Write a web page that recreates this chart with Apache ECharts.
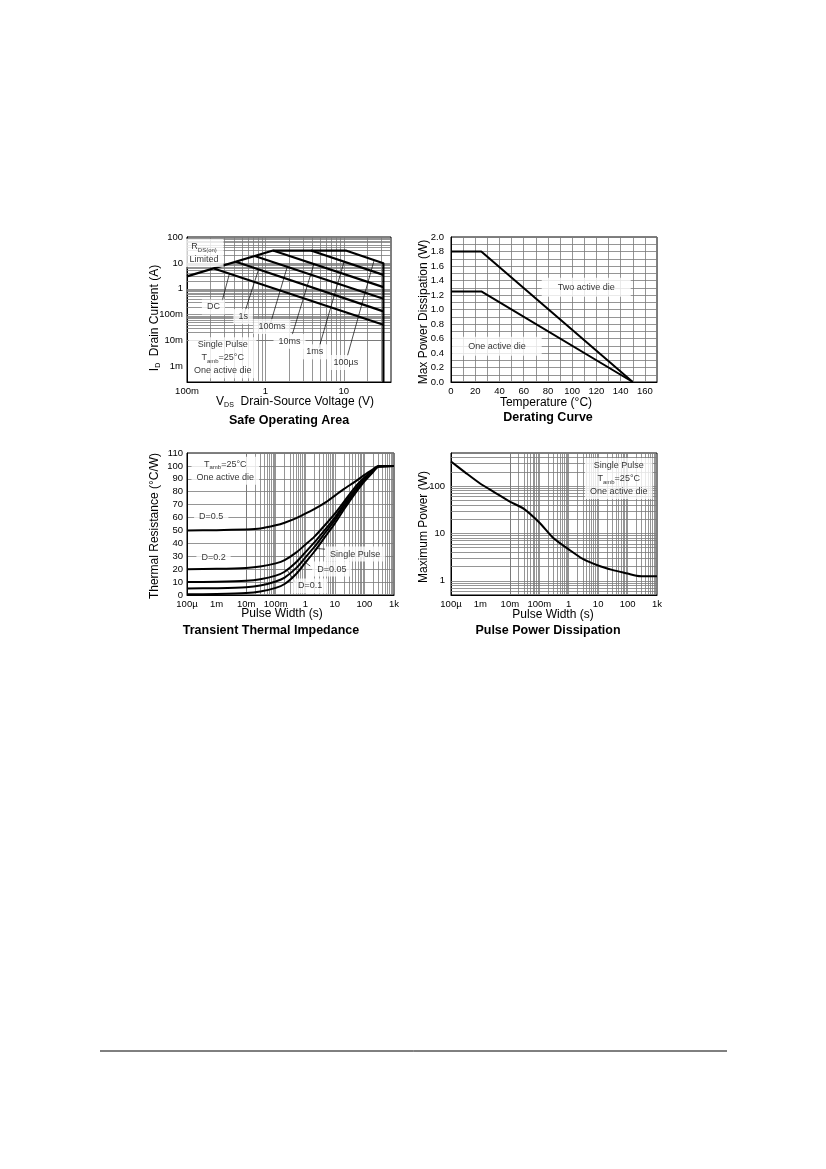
<!DOCTYPE html>
<html><head><meta charset="utf-8">
<script src="https://cdn.jsdelivr.net/npm/echarts/dist/echarts.min.js"></script>
<style>html,body{margin:0;padding:0;background:#fff}#c{width:826px;height:1169px}</style>
</head><body><div id="c"></div>
<script>
// ---------- Safe Operating Area ----------
const soaXTicks = [0.1, 1, 10];
const soaXLabels = ['100m', '1', '10'];
const soaYTicks = [0.001, 0.01, 0.1, 1, 10, 100];
const soaYLabels = ['1m', '10m', '100m', '1', '10', '100'];
const soaLimit = [[0.1, 3], [1.25, 30], [10.6, 30], [32, 9.7], [32, 0.00025]];
const soaDC = [[0.22, 6.1], [32, 0.041]];
const soa1s = [[0.42, 11.1], [32, 0.134]];
const soa100ms = [[0.73, 18.4], [32, 0.41]];
const soa10ms = [[1.25, 30], [32, 1.16]];
const soa1ms = [[3.8, 30], [32, 3.45]];
const soaNoteText = ['{r|R}{s|DS(on)}\n{r|Limited}', 'DC', '1s', '100ms', '10ms', '1ms', '100µs', 'Single Pulse\n{r|T}{s|amb}{r|=25°C}\nOne active die'];
const soaNotePos = [[0.165, 24], [0.217, 0.198], [0.52, 0.084], [1.21, 0.0346], [2.03, 0.0094], [4.25, 0.00367], [10.6, 0.00143], [0.285, 0.00216]];
const soaLeaders = [
  [[0.281, 0.345], [0.348, 3.86]],
  [[0.538, 0.11], [0.82, 5.7]],
  [[1.17, 0.05], [1.9, 7.07]],
  [[2.2, 0.017], [4.16, 9.0]],
  [[4.82, 0.0052], [10.1, 11.3]],
  [[11.1, 0.0025], [24.4, 12.8]]
];

// ---------- Derating ----------
const derXTicks = [0, 20, 40, 60, 80, 100, 120, 140, 160];
const derYTicks = [0, 0.2, 0.4, 0.6, 0.8, 1.0, 1.2, 1.4, 1.6, 1.8, 2.0];
const derTemp = [0, 25, 150];
const derTwo = [1.8, 1.8, 0];
const derOne = [1.25, 1.25, 0];
const derNoteText = ['Two active die', 'One active die'];
const derNotePos = [[111.6, 1.307], [37.9, 0.494]];

// ---------- Transient Thermal Impedance ----------
const pwTicks = [1e-4, 1e-3, 1e-2, 0.1, 1, 10, 100, 1000];
const pwLabels = ['100µ', '1m', '10m', '100m', '1', '10', '100', '1k'];
const thX = [1e-4, 1e-3, 1e-2, 0.03, 0.1, 0.2, 0.5, 1, 2, 5, 10, 20, 50, 100, 200, 300, 1000];
const thD05 = [50, 50.2, 50.8, 51.5, 54, 56, 59.5, 63, 66.5, 72, 77, 82, 88, 93, 97.5, 100, 100];
const thD02 = [20, 20.3, 21, 22, 24.5, 27, 33, 39, 45, 55, 63, 72, 84, 91, 97, 99.5, 100];
const thD01 = [10, 10.3, 11, 12.2, 15, 18, 25.5, 33, 40.5, 51.5, 60, 70, 82, 90, 96.6, 99.5, 100];
const thD005 = [5, 5.3, 6, 7.3, 10.5, 13.5, 21, 29, 37, 49, 58, 68, 80.5, 89, 96.2, 99.5, 100];
const thSingle = [0.5, 0.8, 1.5, 2.7, 5.5, 8.5, 16.5, 25, 33.5, 46, 55.5, 66, 79, 88, 95.5, 99.5, 100];
const thNoteText = ['{r|T}{s|amb}{r|=25°C}\nOne active die', 'D=0.5', 'D=0.2', 'Single Pulse', 'D=0.05', 'D=0.1'];
const thNotePos = [[0.00197, 96.2], [0.00066, 60.5], [0.00079, 29], [48.5, 31.7], [7.9, 20.1], [1.47, 7]];
const thLeaders = [
  [[4.7, 35.5], [2.5, 36]],
  [[1.47, 22.4], [0.85, 26.5]],
  [[0.456, 10], [0.24, 19.5]]
];

// ---------- Pulse Power Dissipation ----------
const ppYTicks = [1, 10, 100];
const ppYLabels = ['1', '10', '100'];
const ppX = [1e-4, 3e-4, 1e-3, 3e-3, 1e-2, 3e-2, 0.1, 0.3, 1, 3, 10, 30, 100, 200, 300, 1000];
const ppY = [330, 195, 112, 74, 47, 33, 17, 8, 4.6, 2.9, 2.1, 1.7, 1.42, 1.28, 1.25, 1.25];
const ppNoteText = ['Single Pulse\n{r|T}{s|amb}{r|=25°C}\nOne active die'];
const ppNotePos = [[50, 144]];

// ---------- helpers ----------
const FONT = '"Liberation Sans", Arial, Helvetica, sans-serif';
const GRID_COLOR = '#7a7a7a';
function fmtFrom(ticks, labels) {
  return function (v) {
    for (let i = 0; i < ticks.length; i++) {
      if (Math.abs(v - ticks[i]) <= Math.abs(ticks[i]) * 1e-6 + 1e-9) return labels[i];
    }
    return '';
  };
}
function logGrid(min, max) {
  const out = [];
  for (let e = Math.floor(Math.log10(min)) - 1; e <= Math.ceil(Math.log10(max)); e++) {
    for (let m = 1; m <= 9; m++) {
      const v = m * Math.pow(10, e);
      if (v > min * 1.0001 && v < max * 0.9999) out.push(v);
    }
  }
  return out;
}
function zip(xs, ys) { return xs.map((x, i) => [x, ys[i]]); }
const rich = {
  r: { fontSize: 9, fontFamily: FONT, color: '#000', lineHeight: 13 },
  s: { fontSize: 6, fontFamily: FONT, color: '#000', verticalAlign: 'bottom', lineHeight: 5 }
};
function curve(g, data, w) {
  return { type: 'line', xAxisIndex: g, yAxisIndex: g, data: data, showSymbol: false, symbol: 'none',
    lineStyle: { color: '#000', width: w || 2, join: 'round' }, z: 3, silent: true };
}
function curveSmooth(g, data) {
  const s = curve(g, data, 2); s.smooth = 0.25; return s;
}
function gridLines(g, xs, ys) {
  const d = [];
  xs.forEach(v => d.push({ xAxis: v }));
  ys.forEach(v => d.push({ yAxis: v }));
  return { type: 'line', xAxisIndex: g, yAxisIndex: g, data: [], silent: true, z: 1,
    markLine: { silent: true, symbol: ['none', 'none'], label: { show: false }, z: 1, animation: false,
      lineStyle: { color: GRID_COLOR, width: 0.8, type: 'solid' }, emphasis: { disabled: true }, data: d } };
}
function notes(g, pos, texts, pad) {
  return { type: 'scatter', xAxisIndex: g, yAxisIndex: g, symbolSize: 1, z: 6, silent: true,
    itemStyle: { color: 'rgba(0,0,0,0)' },
    data: pos.map((p, i) => ({ value: p, label: { formatter: texts[i] } })),
    label: { show: true, position: 'inside', color: '#000', fontSize: 9, fontFamily: FONT, lineHeight: 13,
      backgroundColor: '#fff', padding: pad || [1, 5, 1, 5], rich: rich } };
}
function leaders(g, list) {
  return { type: 'lines', coordinateSystem: 'cartesian2d', xAxisIndex: g, yAxisIndex: g, z: 5, silent: true,
    lineStyle: { color: '#000', width: 0.7, opacity: 1 },
    data: list.map(c => ({ coords: c })) };
}
function baseAxis(extra) {
  return Object.assign({
    axisLine: { show: true, onZero: false, lineStyle: { color: '#000', width: 1 } },
    axisTick: { show: false },
    splitLine: { show: false },
    axisLabel: { color: '#000', fontSize: 9.5, fontFamily: FONT, margin: 4 }
  }, extra);
}

const chart = echarts.init(document.getElementById('c'), null, { renderer: 'canvas' });

const grids = [
  { left: 187, top: 237, width: 204, height: 145 },
  { left: 451, top: 237, width: 206, height: 145 },
  { left: 187, top: 453, width: 207, height: 142 },
  { left: 451, top: 453, width: 206, height: 142 }
].map(g => Object.assign(g, { show: true, borderColor: '#000', borderWidth: 1, backgroundColor: '#fff', containLabel: false }));

const xAxes = [
  baseAxis({ gridIndex: 0, type: 'log', logBase: 10, min: 0.1, max: 40,
    axisLabel: { color: '#000', fontSize: 9.5, fontFamily: FONT, margin: 4, formatter: fmtFrom(soaXTicks, soaXLabels) } }),
  baseAxis({ gridIndex: 1, type: 'value', min: 0, max: 170, interval: 10,
    splitLine: { show: true, lineStyle: { color: GRID_COLOR, width: 0.8 } },
    axisLabel: { color: '#000', fontSize: 9.5, fontFamily: FONT, margin: 4, formatter: fmtFrom(derXTicks, derXTicks.map(String)) } }),
  baseAxis({ gridIndex: 2, type: 'log', logBase: 10, min: 1e-4, max: 1000,
    axisLabel: { color: '#000', fontSize: 9.5, fontFamily: FONT, margin: 4, formatter: fmtFrom(pwTicks, pwLabels) } }),
  baseAxis({ gridIndex: 3, type: 'log', logBase: 10, min: 1e-4, max: 1000,
    axisLabel: { color: '#000', fontSize: 9.5, fontFamily: FONT, margin: 4, formatter: fmtFrom(pwTicks, pwLabels) } })
];
const yAxes = [
  baseAxis({ gridIndex: 0, type: 'log', logBase: 10, min: 0.00025, max: 100,
    axisLabel: { color: '#000', fontSize: 9.5, fontFamily: FONT, margin: 4, formatter: fmtFrom(soaYTicks, soaYLabels) } }),
  baseAxis({ gridIndex: 1, type: 'value', min: 0, max: 2, interval: 0.1,
    splitLine: { show: true, lineStyle: { color: GRID_COLOR, width: 0.8 } },
    axisLabel: { color: '#000', fontSize: 9.5, fontFamily: FONT, margin: 7, formatter: fmtFrom(derYTicks, derYTicks.map(v => v.toFixed(1))) } }),
  baseAxis({ gridIndex: 2, type: 'value', min: 0, max: 110, interval: 10,
    splitLine: { show: true, lineStyle: { color: GRID_COLOR, width: 0.8 } },
    axisLabel: { color: '#000', fontSize: 9.5, fontFamily: FONT, margin: 4 } }),
  baseAxis({ gridIndex: 3, type: 'log', logBase: 10, min: 0.5, max: 500,
    axisLabel: { color: '#000', fontSize: 9.5, fontFamily: FONT, margin: 6, formatter: fmtFrom(ppYTicks, ppYLabels) } })
];

const series = [
  gridLines(0, logGrid(0.1, 40), logGrid(0.00025, 100)),
  curve(0, soaLimit, 2.2), curve(0, soaDC, 2.2), curve(0, soa1s, 2.2), curve(0, soa100ms, 2.2),
  curve(0, soa10ms, 2.2), curve(0, soa1ms, 2.2),
  leaders(0, soaLeaders),
  notes(0, soaNotePos, soaNoteText),

  curve(1, zip(derTemp, derTwo), 2), curve(1, zip(derTemp, derOne), 2),
  notes(1, derNotePos, derNoteText, [3, 16, 3, 16]),

  gridLines(2, logGrid(1e-4, 1000), []),
  curveSmooth(2, zip(thX, thD05)), curveSmooth(2, zip(thX, thD02)), curveSmooth(2, zip(thX, thD01)),
  curveSmooth(2, zip(thX, thD005)), curveSmooth(2, zip(thX, thSingle)),
  leaders(2, thLeaders),
  notes(2, thNotePos, thNoteText),

  gridLines(3, logGrid(1e-4, 1000), logGrid(0.5, 500)),
  curveSmooth(3, zip(ppX, ppY)),
  notes(3, ppNotePos, ppNoteText)
];

const tRich = {
  n: { fontSize: 12, fontFamily: FONT, color: '#000', lineHeight: 14 },
  s: { fontSize: 7, fontFamily: FONT, color: '#000', verticalAlign: 'bottom', lineHeight: 6 }
};
function txt(x, y, text, opts) {
  opts = opts || {};
  return { type: 'text', x: x, y: y, rotation: opts.rot || 0, silent: true,
    style: { text: text, fill: '#000', font: (opts.bold ? 'bold ' : '') + (opts.size || 12) + 'px ' + FONT,
      align: 'center', verticalAlign: 'middle', rich: tRich } };
}
const graphics = [
  txt(295, 402, '{n|V}{s|DS}{n|  Drain-Source Voltage (V)}'),
  txt(155, 318, '{n|I}{s|D}{n|  Drain Current (A)}', { rot: Math.PI / 2 }),
  txt(289, 421, 'Safe Operating Area', { bold: true, size: 12.5 }),
  txt(546, 403, 'Temperature (°C)'),
  txt(424, 312, 'Max Power Dissipation (W)', { rot: Math.PI / 2 }),
  txt(548, 418, 'Derating Curve', { bold: true, size: 12.5 }),
  txt(282, 614, 'Pulse Width (s)'),
  txt(155, 526, 'Thermal Resistance (°C/W)', { rot: Math.PI / 2 }),
  txt(271, 631, 'Transient Thermal Impedance', { bold: true, size: 12.5 }),
  txt(553, 615, 'Pulse Width (s)'),
  txt(424, 527, 'Maximum Power (W)', { rot: Math.PI / 2 }),
  txt(548, 631, 'Pulse Power Dissipation', { bold: true, size: 12.5 }),
  { type: 'line', silent: true, shape: { x1: 100, y1: 1051, x2: 727, y2: 1051 }, style: { stroke: '#000', lineWidth: 1 } }
];

chart.setOption({
  animation: false,
  backgroundColor: '#fff',
  textStyle: { fontFamily: FONT },
  grid: grids,
  xAxis: xAxes,
  yAxis: yAxes,
  series: series,
  graphic: graphics
});
</script>
</body></html>
